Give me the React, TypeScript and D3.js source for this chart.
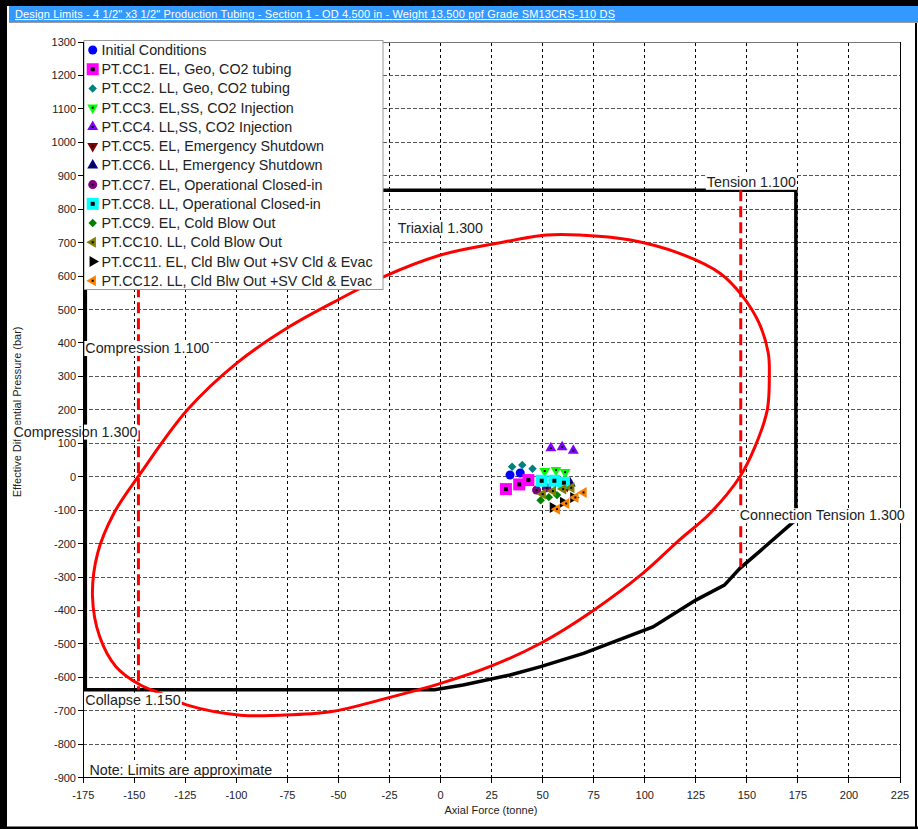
import React, { useEffect, useRef } from "react";
import * as d3 from "d3";

const W = 918;
const H = 829;
const TITLE = 'Design Limits - 4 1/2" x3 1/2" Production Tubing  - Section 1 - OD 4.500 in - Weight 13.500 ppf Grade SM13CRS-110 DS';
const X_LABEL = "Axial Force (tonne)";
const Y_LABEL = "Effective Differential Pressure (bar)";

const xTicks = d3.range(-175, 226, 25);
const yTicks = d3.range(-900, 1301, 100);

// Triaxial 1.300 envelope (tonne, bar)
const triaxial: [number, number][] = [
  [52, 723], [68, 723], [93, 708], [117, 668], [137, 608], [147.5, 543], [156, 459],
  [160.5, 369], [161, 299], [160, 200], [154, 90], [146.6, 0], [132, -109], [117, -189],
  [99, -289], [75, -399], [49, -498], [24, -568], [0, -618], [-30, -668], [-54, -703],
  [-79, -713], [-98, -713], [-124, -683], [-137, -648], [-147, -623], [-159, -568],
  [-167, -478], [-170.5, -359], [-168, -229], [-160, -109], [-147, 10], [-124, 200],
  [-100, 339], [-74, 449], [-49, 533], [-28, 598], [0, 663], [27.5, 698],
];

// Tension 1.100 / Compression 1.100 / Collapse 1.150 / Connection tension envelope
const envelope: [number, number][] = [
  [-174, 857], [174, 857], [174, -128], [172.8, -135], [158, -214], [146.6, -274],
  [139, -324], [125, -369], [104, -449], [70, -528], [49, -568], [34, -593], [11, -623],
  [-3, -637], [-174, -637], [-174, 857],
];

// Compression 1.300 and connection tension 1.300 dashed limits
const dashLeft: [number, number][] = [[-148, 857], [-148, -637]];
const dashRight: [number, number][] = [[147, 857], [147, -270]];

const seriesNames = [
  "Initial Conditions",
  "PT.CC1. EL, Geo, CO2 tubing",
  "PT.CC2. LL, Geo, CO2 tubing",
  "PT.CC3. EL,SS, CO2 Injection",
  "PT.CC4. LL,SS, CO2 Injection",
  "PT.CC5. EL, Emergency Shutdown",
  "PT.CC6. LL, Emergency Shutdown",
  "PT.CC7. EL, Operational Closed-in",
  "PT.CC8. LL, Operational Closed-in",
  "PT.CC9. EL, Cold Blow Out",
  "PT.CC10. LL, Cold Blow Out",
  "PT.CC11. EL, Cld Blw Out +SV Cld & Evac",
  "PT.CC12. LL, Cld Blw Out +SV Cld & Evac",
];
const seriesColors = [
  "#0000ff", "#ff00ff", "#008080", "#00ff00", "#8000ff", "#800000", "#000080",
  "#800080", "#00ffff", "#008000", "#808000", "#000000", "#ff8000",
];
const seriesShapes = [
  "circle", "square", "diamond", "down", "up", "down", "up",
  "circle", "square", "diamond", "left", "right", "left",
];
const seriesDot = [false, true, false, true, true, true, true, true, true, false, true, false, true];

const initialData: [number, number][] = [[34, 5], [39, 11]];
const cc1Data: [number, number][] = [[32, -37], [38.5, -23], [43, -10]];
const cc2Data: [number, number][] = [[35, 30], [40, 35], [45, 24]];
const cc3Data: [number, number][] = [[51, 17], [56.5, 20], [61, 14]];
const cc4Data: [number, number][] = [[54, 86], [59.5, 89], [65, 78]];
const cc5Data: [number, number][] = [[62, -28]];
const cc6Data: [number, number][] = [[63.5, -20]];
const cc7Data: [number, number][] = [[47, -40], [52, -33]];
const cc8Data: [number, number][] = [[49.5, -12], [55.7, -12], [60.4, -18]];
const cc9Data: [number, number][] = [[49, -70], [53, -61], [57, -55]];
const cc10Data: [number, number][] = [[50, -52], [55, -43], [60, -37], [64, -33]];
const cc11Data: [number, number][] = [[55, -92], [60, -76], [65, -62]];
const cc12Data: [number, number][] = [[57, -97], [61.5, -80], [66, -62], [70, -47]];
const seriesData = [
  initialData, cc1Data, cc2Data, cc3Data, cc4Data, cc5Data, cc6Data,
  cc7Data, cc8Data, cc9Data, cc10Data, cc11Data, cc12Data,
];

// Limit annotation labels: text, data anchor, text-anchor
const limitLabels: { text: string; x: number; y: number; anchor: string }[] = [
  { text: "Tension 1.100", x: 174, y: 867, anchor: "end" },
  { text: "Triaxial 1.300", x: -21, y: 730, anchor: "start" },
  { text: "Compression 1.100", x: -174, y: 370, anchor: "start" },
  { text: "Compression 1.300", x: -148.5, y: 120, anchor: "end" },
  { text: "Connection Tension 1.300", x: 146.5, y: -130, anchor: "start" },
  { text: "Collapse 1.150", x: -174, y: -682, anchor: "start" },
];
const NOTE = "Note: Limits are approximate";

const FONT = "'Liberation Sans', Arial, sans-serif";
const LABEL_SIZE = 14.3;

function drawMarker(g: any, shape: string, color: string, dot: boolean, cx: number, cy: number) {
  const sym = d3.symbol();
  let path = "";
  let rot = 0;
  if (shape === "circle") path = sym.type(d3.symbolCircle).size(64)() as string;
  else if (shape === "square") path = sym.type(d3.symbolSquare).size(144)() as string;
  else if (shape === "diamond") { path = sym.type(d3.symbolSquare).size(36)() as string; rot = 45; }
  else {
    path = sym.type(d3.symbolTriangle).size(52)() as string;
    rot = shape === "up" ? 0 : shape === "down" ? 180 : shape === "left" ? -90 : 90;
  }
  g.append("path")
    .attr("d", path)
    .attr("transform", `translate(${cx},${cy}) rotate(${rot})`)
    .attr("fill", color)
    .attr("stroke", "none");
  if (dot) {
    const s = shape === "square" ? 4 : 2;
    g.append("rect")
      .attr("x", cx - s / 2)
      .attr("y", cy - s / 2)
      .attr("width", s)
      .attr("height", s)
      .attr("fill", "#000");
  }
}

export default function App() {
  const ref = useRef<SVGSVGElement | null>(null);

  useEffect(() => {
    const svg = d3.select(ref.current);
    svg.selectAll("*").remove();

    const x = d3.scaleLinear().domain([-175, 225]).range([83.3, 900]);
    const y = d3.scaleLinear().domain([-900, 1300]).range([777.7, 42]);
    const [x0, x1] = x.range();
    const [y0, y1] = y.range();

    svg.append("rect").attr("width", W).attr("height", H).attr("fill", "#fff");

    // outer frame
    svg.append("rect").attr("x", 0).attr("y", 0).attr("width", W).attr("height", 6).attr("fill", "#000");
    svg.append("rect").attr("x", 0).attr("y", 0).attr("width", 7).attr("height", H).attr("fill", "#000");
    svg.append("rect").attr("x", 0).attr("y", 826.5).attr("width", W).attr("height", 2.5).attr("fill", "#000");
    svg.append("rect").attr("x", 915).attr("y", 22).attr("width", 2).attr("height", H - 22).attr("fill", "#000");

    // title bar
    svg.append("rect").attr("x", 9).attr("y", 6).attr("width", W - 9).attr("height", 16).attr("fill", "#3399ff");
    svg.append("line").attr("x1", 9).attr("x2", W).attr("y1", 22.5).attr("y2", 22.5).attr("stroke", "#9a9a9a").attr("stroke-width", 1);
    svg.append("text")
      .attr("x", 15).attr("y", 18)
      .attr("font-family", FONT).attr("font-size", 11)
      .attr("fill", "#fff")
      .attr("text-decoration", "underline")
      .attr("textLength", 600).attr("lengthAdjust", "spacing")
      .text(TITLE);

    // grid
    const grid = svg.append("g");
    xTicks.filter((t) => t > -175 && t < 225).forEach((t) => {
      grid.append("line")
        .attr("x1", x(t)).attr("x2", x(t)).attr("y1", y0).attr("y2", y1)
        .attr("stroke", "#000").attr("stroke-width", 1).attr("stroke-dasharray", "3,3")
        .attr("shape-rendering", "crispEdges");
    });
    yTicks.filter((t) => t > -900 && t < 1300).forEach((t) => {
      grid.append("line")
        .attr("x1", x0).attr("x2", x1).attr("y1", y(t)).attr("y2", y(t))
        .attr("stroke", "#555").attr("stroke-width", 1).attr("stroke-dasharray", "4,2")
        .attr("shape-rendering", "crispEdges");
    });

    // frame
    svg.append("line").attr("x1", x0).attr("x2", x1).attr("y1", y1).attr("y2", y1)
      .attr("stroke", "#777").attr("shape-rendering", "crispEdges");
    svg.append("line").attr("x1", x1).attr("x2", x1).attr("y1", y1).attr("y2", y0)
      .attr("stroke", "#000").attr("shape-rendering", "crispEdges");

    const line = d3.line<[number, number]>().x((d) => x(d[0])).y((d) => y(d[1]));

    // black envelope
    svg.append("path").attr("d", line(envelope)).attr("fill", "none")
      .attr("stroke", "#000").attr("stroke-width", 3.5).attr("stroke-linejoin", "miter");

    // red dashed
    [dashLeft, dashRight].forEach((dl) => {
      svg.append("path").attr("d", line(dl)).attr("fill", "none")
        .attr("stroke", "#ff0000").attr("stroke-width", 3).attr("stroke-dasharray", "11,5");
    });

    // triaxial ellipse
    const closed = d3.line<[number, number]>().x((d) => x(d[0])).y((d) => y(d[1])).curve(d3.curveCatmullRomClosed.alpha(0.5));
    svg.append("path").attr("d", closed(triaxial)).attr("fill", "none")
      .attr("stroke", "#ff0000").attr("stroke-width", 3);

    // markers
    const mk = svg.append("g");
    seriesData.forEach((data, i) => {
      data.forEach((d) => drawMarker(mk, seriesShapes[i], seriesColors[i], seriesDot[i], x(d[0]), y(d[1])));
    });

    // labels with white background
    const addLabel = (txt: string, px: number, py: number, anchor: string) => {
      const g = svg.append("g");
      const t = g.append("text")
        .attr("x", px).attr("y", py)
        .attr("text-anchor", anchor)
        .attr("font-family", FONT).attr("font-size", LABEL_SIZE)
        .attr("fill", "#222")
        .text(txt);
      const bb = (t.node() as SVGTextElement).getBBox();
      g.insert("rect", "text")
        .attr("x", bb.x - 1).attr("y", bb.y + 1)
        .attr("width", bb.width + 2).attr("height", bb.height - 1)
        .attr("fill", "#fff");
    };

    // y axis title (partly covered by label later)
    svg.append("text")
      .attr("transform", `translate(20.5,${(y0 + y1) / 2 + 2}) rotate(-90)`)
      .attr("text-anchor", "middle")
      .attr("font-family", FONT).attr("font-size", 11)
      .attr("fill", "#222")
      .text(Y_LABEL);

    limitLabels.forEach((l) => addLabel(l.text, x(l.x), y(l.y), l.anchor));
    addLabel(NOTE, x(-172), y(-891), "start");

    // legend
    const lg = svg.append("g");
    lg.append("rect").attr("x", 84).attr("y", 40.5).attr("width", 299).attr("height", 249)
      .attr("fill", "#fff").attr("stroke", "#999").attr("stroke-width", 1);
    seriesNames.forEach((name, i) => {
      const cy = 50 + i * 19.23;
      drawMarker(lg, seriesShapes[i], seriesColors[i], seriesDot[i], 92.7, cy);
      lg.append("text")
        .attr("x", 101.5).attr("y", cy + 5)
        .attr("font-family", FONT).attr("font-size", LABEL_SIZE)
        .attr("fill", "#222")
        .text(name);
    });

    // axes
    const ax = svg.append("g");
    ax.append("line").attr("x1", x0).attr("x2", x0).attr("y1", y1).attr("y2", y0)
      .attr("stroke", "#000").attr("shape-rendering", "crispEdges");
    ax.append("line").attr("x1", x0).attr("x2", x1).attr("y1", y0).attr("y2", y0)
      .attr("stroke", "#000").attr("shape-rendering", "crispEdges");
    xTicks.forEach((t) => {
      ax.append("line").attr("x1", x(t)).attr("x2", x(t)).attr("y1", y0).attr("y2", y0 + 5)
        .attr("stroke", "#000").attr("shape-rendering", "crispEdges");
      ax.append("text").attr("x", x(t)).attr("y", 799)
        .attr("text-anchor", "middle")
        .attr("font-family", FONT).attr("font-size", 11).attr("fill", "#222")
        .text(String(t));
    });
    yTicks.forEach((t) => {
      ax.append("line").attr("x1", x0 - 5).attr("x2", x0).attr("y1", y(t)).attr("y2", y(t))
        .attr("stroke", "#000").attr("shape-rendering", "crispEdges");
      ax.append("text").attr("x", 76).attr("y", y(t) + 4)
        .attr("text-anchor", "end")
        .attr("font-family", FONT).attr("font-size", 11).attr("fill", "#222")
        .text(String(t));
    });
    ax.append("text").attr("x", 491).attr("y", 814)
      .attr("text-anchor", "middle")
      .attr("font-family", FONT).attr("font-size", 11).attr("fill", "#222")
      .text(X_LABEL);
  }, []);

  return (
    <svg
      ref={ref}
      width={W}
      height={H}
      style={{ position: "absolute", left: 0, top: 0, display: "block" }}
    />
  );
}
